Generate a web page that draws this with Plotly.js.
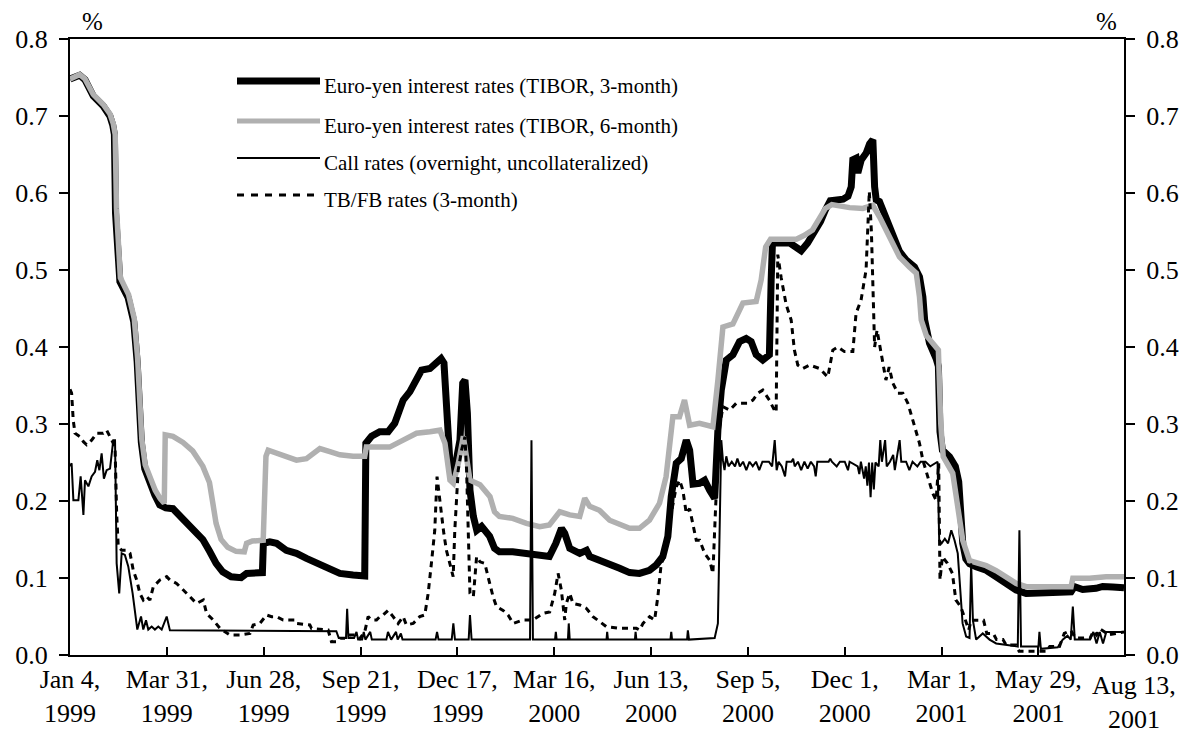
<!DOCTYPE html>
<html>
<head>
<meta charset="utf-8">
<script src="https://cdn.plot.ly/plotly-3.0.1.min.js"></script>
<style>html,body{margin:0;padding:0;background:#fff;}#chart{width:1187px;height:740px;}</style>
</head>
<body>
<div id="chart"></div>
<script>
// x = business-day index from Jan 4, 1999
const tickIdx = [0,60,120,180,240,300,360,420,480,540,600,653];
const tickLabels = ["Jan 4,<br>1999","Mar 31,<br>1999","Jun 28,<br>1999","Sep 21,<br>1999","Dec 17,<br>1999","Mar 16,<br>2000","Jun 13,<br>2000","Sep 5,<br>2000","Dec 1,<br>2000","Mar 1,<br>2001","May 29,<br>2001","Aug 13,<br>2001"];
const yTicks = [0,0.1,0.2,0.3,0.4,0.5,0.6,0.7,0.8];

const seriesNames = ["Euro-yen interest rates (TIBOR, 3-month)","Euro-yen interest rates (TIBOR, 6-month)","Call rates (overnight, uncollateralized)","TB/FB rates (3-month)"];

const tibor3mX = [0,6,9.3,14.4,20.6,24.7,26.5,27.5,28.2,30.9,36,39.5,41.6,42.8,44.2,46.3,49.4,52.5,55.6,59.3,63.8,70,76,82.3,86.4,90.5,94.6,99.8,106,109.4,119.2,119.8,123.8,128,134,140.3,146.5,152.7,158.9,167.2,175.4,182.6,183.3,186.8,191.9,197.1,201.2,206.4,210.6,214.7,217.8,223,227.1,229.9,231.7,233.4,235.4,237.5,239.6,241.6,243.3,244.7,246.2,247.8,249.9,252,255,257,260,263,266,274.3,282.8,291,297,301,304.5,306.5,309.6,315.8,320,322,328,334.3,340.5,346.7,352.8,359,363.2,367.3,370.4,372.5,375.6,378.7,381.8,383.9,386,390,393.2,396.3,399.4,401.4,403.5,406.6,410.7,414.8,418.9,422,425.1,429.2,433.3,434.4,435.2,446,449,453,457,461,465,468,471,479,482,484,485,487,488.1,490.2,493.3,495.4,497.4,498.5,499.5,501.5,504.6,507.7,510.8,513.9,518,523.2,526.3,528.4,529.5,532.5,536.6,538,539,540.5,544.9,548.5,550.6,552,553.1,555,557.3,561.4,567.6,573.8,580,586.2,592.4,600.6,611,620.2,622.3,627.4,635.7,639.8,646,653];
const tibor3mY = [0.748,0.753,0.747,0.726,0.713,0.700,0.688,0.676,0.574,0.485,0.464,0.433,0.381,0.328,0.276,0.242,0.224,0.208,0.195,0.191,0.190,0.176,0.163,0.150,0.135,0.119,0.108,0.1016,0.1005,0.106,0.107,0.145,0.147,0.145,0.136,0.132,0.1255,0.119,0.1126,0.106,0.104,0.1026,0.275,0.284,0.290,0.290,0.301,0.331,0.342,0.357,0.370,0.372,0.381,0.385,0.379,0.314,0.249,0.232,0.258,0.279,0.353,0.357,0.314,0.214,0.180,0.162,0.167,0.162,0.154,0.1385,0.134,0.134,0.132,0.130,0.128,0.145,0.1645,0.158,0.1385,0.132,0.136,0.128,0.1234,0.119,0.1126,0.107,0.106,0.110,0.117,0.128,0.154,0.206,0.249,0.255,0.279,0.266,0.222,0.223,0.227,0.214,0.2035,0.292,0.344,0.383,0.390,0.407,0.411,0.407,0.390,0.383,0.390,0.487,0.535,0.535,0.530,0.525,0.535,0.548,0.563,0.578,0.590,0.592,0.596,0.608,0.643,0.645,0.626,0.643,0.652,0.664,0.669,0.608,0.591,0.589,0.574,0.556,0.543,0.524,0.513,0.504,0.491,0.465,0.435,0.405,0.385,0.375,0.290,0.266,0.2576,0.245,0.225,0.180,0.145,0.125,0.1186,0.1147,0.110,0.1017,0.093,0.0844,0.080,0.080,0.080,0.082,0.0887,0.085,0.0866,0.089,0.0883,0.0874];

const tibor6mX = [0,6,9.3,14.4,20.6,24.7,26.8,28,28.8,31.2,36.3,39.8,41.9,43.1,44.5,46.6,49.7,52.8,55.9,58.4,59,63.8,70,76,82.3,86.4,88.5,90.5,93.6,97.7,102.9,108,109.4,113,119.7,121.4,122.8,130,140.3,146.5,154.8,161,167.2,175.4,182.6,183.6,198,206.4,214.7,223,229.2,232.3,235.4,237.5,240.6,243.7,245.8,247.8,254,258,260.2,263,266,274.3,282.8,291,297,303.4,309.6,315.8,318.9,322,328,334.3,340.5,346.7,352.8,359,365.2,369.3,373.5,377.6,380.7,383.9,390,398.3,401.4,404.5,410.7,416.9,425.1,428.2,431,434,450,455,460,464,468,472,483,491.2,497.4,501.5,505.7,509.8,513.9,520,524.3,526.3,527.4,530.5,534,538,539.5,541,546.9,551,553.1,557.3,561.4,567.6,573.8,580,586.2,592.4,620.2,621.3,631.6,641.9,653];
const tibor6mY = [0.748,0.754,0.748,0.728,0.715,0.703,0.690,0.676,0.580,0.490,0.468,0.437,0.385,0.332,0.280,0.247,0.229,0.214,0.203,0.197,0.286,0.284,0.276,0.265,0.245,0.224,0.197,0.171,0.150,0.140,0.1346,0.134,0.145,0.148,0.149,0.258,0.266,0.260,0.253,0.255,0.268,0.264,0.260,0.258,0.258,0.270,0.270,0.279,0.288,0.290,0.292,0.275,0.227,0.223,0.249,0.284,0.258,0.227,0.221,0.212,0.2056,0.186,0.180,0.1775,0.171,0.1667,0.169,0.186,0.182,0.180,0.2035,0.193,0.188,0.175,0.169,0.1645,0.1645,0.175,0.197,0.2316,0.3095,0.3095,0.331,0.2985,0.301,0.2965,0.357,0.426,0.430,0.457,0.459,0.487,0.530,0.540,0.540,0.545,0.552,0.565,0.580,0.585,0.581,0.580,0.584,0.569,0.552,0.535,0.517,0.504,0.496,0.465,0.435,0.415,0.405,0.396,0.300,0.2576,0.236,0.184,0.149,0.1225,0.1203,0.116,0.1095,0.101,0.093,0.0887,0.0887,0.0996,0.0996,0.1017,0.1017];

const callX = [0,1,2.1,5.2,6.6,8.3,9.3,11.4,13.4,15.5,16.9,18.2,19.6,21,22.7,24.8,26.8,27.9,28.9,30.5,32,34,36.1,38.8,41.7,44,45.4,47.1,48.5,50.6,52.6,54.7,56.8,59.9,61.9,165,166.5,171,171.7,172.5,176,177.5,178.5,181,182,183,186,187,196,197,199,202,203,205,206,226.5,227.4,228.3,236.5,237.5,238.5,247,247.8,248.8,285,285.9,286.8,300.5,301,301.5,308.5,309,309.6,332.4,332.8,333.3,350,350.4,350.9,372,372.5,373,382.3,382.8,383.5,399.4,401.4,403.5,404.5,405.5,406.6,408,410,412,413.5,415,417,419,421,423,425,427,429,433,435,436.6,437.8,439,441,443,444,447,448,449,451,453,455,457,459,461,462,463,470,471,472,475,477,480,482,483,488,489,490,492,493,494,495,496,497,498,499,501,502,503,505,506,508,510,511,514,515,518,520,522,525,527,530,533,537.5,538.5,540,542,544,546,548,550,553,555.2,557.3,558.3,559.4,561.4,565.5,569.7,573.8,580,587.2,588.2,589.2,600,600.6,601.5,612,615,618,620,621.3,622.5,630,632,634,636,638,640,642,645,653];
const callY = [0.245,0.249,0.201,0.201,0.232,0.182,0.227,0.219,0.232,0.238,0.253,0.240,0.262,0.229,0.240,0.242,0.279,0.279,0.119,0.080,0.132,0.130,0.115,0.080,0.033,0.050,0.033,0.045,0.033,0.037,0.033,0.037,0.033,0.050,0.032,0.031,0.022,0.022,0.060,0.022,0.022,0.030,0.020,0.020,0.030,0.020,0.030,0.020,0.020,0.030,0.020,0.030,0.020,0.028,0.020,0.020,0.030,0.020,0.020,0.041,0.020,0.020,0.052,0.020,0.020,0.279,0.020,0.020,0.030,0.020,0.020,0.041,0.020,0.020,0.030,0.020,0.020,0.030,0.020,0.020,0.030,0.020,0.020,0.032,0.020,0.022,0.041,0.279,0.253,0.240,0.258,0.245,0.251,0.245,0.255,0.245,0.251,0.240,0.251,0.245,0.251,0.240,0.251,0.251,0.245,0.279,0.240,0.251,0.245,0.232,0.251,0.251,0.255,0.245,0.251,0.240,0.251,0.242,0.251,0.245,0.232,0.251,0.251,0.255,0.251,0.245,0.251,0.251,0.240,0.251,0.245,0.235,0.251,0.229,0.245,0.220,0.250,0.205,0.250,0.215,0.250,0.245,0.279,0.251,0.279,0.245,0.251,0.260,0.240,0.279,0.251,0.251,0.240,0.251,0.245,0.251,0.251,0.245,0.251,0.149,0.145,0.151,0.145,0.162,0.149,0.132,0.041,0.024,0.022,0.119,0.045,0.020,0.028,0.020,0.015,0.013,0.011,0.162,0.011,0.011,0.030,0.008,0.010,0.020,0.025,0.020,0.063,0.020,0.020,0.020,0.030,0.015,0.030,0.015,0.030,0.030,0.030];

const tbfbX = [0,1,2,3.1,6.2,8.3,10.3,13.4,16.5,20.6,22.7,24.8,26.8,27.9,28.9,29.9,32,35.1,37.2,39.2,41.3,43.3,45.4,47.5,49.5,51.6,55.7,59.9,61.9,66,70.2,74.3,78.4,82.6,84.6,88.7,92.9,99.1,105.3,111.5,113.5,117.6,121.8,124.9,128,132.1,139.3,140.3,148.6,149.6,159.9,162,166.1,167.2,171.3,173.4,177.5,179.6,182.6,184.7,186.8,189.9,191.9,194,197.1,200.2,203.3,206.4,208.4,212.6,216.7,219.8,221.9,223.9,226,227.4,228.7,230.1,231.6,233.2,235.3,237.4,238.4,239.5,240.5,242.6,244.7,245.7,246.7,247.8,249.9,251.9,254,257,259,262.1,264.2,268.3,271.4,274.5,280.7,286.9,293.1,297.2,300.3,302.4,304.4,306.5,307.5,309.6,311.6,315.8,319.9,324,328.2,332.3,340.5,350.9,352.9,355,359.1,362.2,364.2,366.3,368.4,372.5,375.6,377.7,379.7,381.8,383.9,388,390.1,393.2,396.3,398.3,400,402.5,404.5,408.7,412.8,416.9,420,423.1,426.2,429.2,433.3,436.4,437.5,438.5,440.6,443.7,446.8,448.8,450.9,454,458.2,464.4,469.5,472.6,475.7,479.8,485,487,490.1,493.2,495.2,496.5,498.5,500,503.5,505.5,507.5,509.8,512.9,516,519.1,522.2,526.3,528.4,531.4,534.5,536.6,538.2,539,540.5,543.6,546.7,548.8,551.8,554,556.8,558.3,560,566,568,572,574,578,580,586,588,605,607,613,616,620,623,632,634,636,638,641,643,653];
const tbfbY = [0.345,0.340,0.305,0.288,0.2835,0.277,0.273,0.279,0.288,0.288,0.292,0.2835,0.277,0.2706,0.184,0.1407,0.136,0.136,0.132,0.110,0.0974,0.080,0.0714,0.0758,0.0714,0.0887,0.0974,0.1017,0.0974,0.093,0.0844,0.0758,0.067,0.0714,0.054,0.0455,0.0346,0.026,0.026,0.028,0.039,0.041,0.052,0.0498,0.0498,0.0455,0.0455,0.041,0.039,0.0346,0.0325,0.0173,0.0173,0.0216,0.0216,0.026,0.026,0.0216,0.030,0.0498,0.0455,0.0455,0.0498,0.052,0.058,0.0498,0.041,0.0498,0.039,0.041,0.0498,0.052,0.080,0.119,0.162,0.2316,0.2056,0.184,0.158,0.136,0.119,0.1017,0.162,0.201,0.240,0.266,0.2835,0.240,0.171,0.080,0.0758,0.1277,0.121,0.119,0.1017,0.0758,0.063,0.058,0.052,0.041,0.0455,0.0455,0.054,0.056,0.080,0.106,0.0844,0.0455,0.067,0.080,0.067,0.065,0.0606,0.0498,0.0433,0.0368,0.0346,0.0346,0.0325,0.041,0.0498,0.0455,0.0758,0.119,0.1277,0.184,0.2186,0.227,0.214,0.184,0.190,0.149,0.149,0.132,0.123,0.106,0.193,0.2965,0.3225,0.318,0.327,0.327,0.327,0.331,0.340,0.344,0.331,0.318,0.315,0.520,0.490,0.455,0.435,0.396,0.3766,0.372,0.3766,0.372,0.361,0.396,0.400,0.394,0.394,0.4437,0.461,0.500,0.602,0.550,0.400,0.422,0.379,0.357,0.374,0.353,0.340,0.340,0.327,0.305,0.275,0.253,0.2316,0.210,0.201,0.249,0.0974,0.1277,0.119,0.106,0.0714,0.063,0.050,0.0325,0.045,0.045,0.045,0.028,0.028,0.020,0.020,0.013,0.013,0.005,0.005,0.011,0.011,0.028,0.032,0.022,0.022,0.031,0.026,0.034,0.030,0.026,0.030];

const FONT = "Liberation Serif, Times New Roman, serif";

const traces = [
  {x: tibor3mX, y: tibor3mY, name: seriesNames[0], type: "scatter", mode: "lines",
   line: {color: "#000000", width: 7}},
  {x: tibor6mX, y: tibor6mY, name: seriesNames[1], type: "scatter", mode: "lines",
   line: {color: "#b0b0b0", width: 5.5}},
  {x: callX, y: callY, name: seriesNames[2], type: "scatter", mode: "lines",
   line: {color: "#000000", width: 2}},
  {x: tbfbX, y: tbfbY, name: seriesNames[3], type: "scatter", mode: "lines",
   line: {color: "#000000", width: 3, dash: "6px,5px"}},
  {x: [0, 653], y: [0, 0], yaxis: "y2", type: "scatter", mode: "lines",
   line: {width: 0}, hoverinfo: "skip", showlegend: false}
];

// legend drawn in paper coordinates
const L = 70, R = 1124, T = 39, B = 655;
const px = v => (v - L) / (R - L);
const py = v => (B - v) / (B - T);
const legRows = [81, 121, 158, 195];
const legStyles = [
  {color: "#000000", width: 7},
  {color: "#b0b0b0", width: 5},
  {color: "#000000", width: 2},
  {color: "#000000", width: 3, dash: "7px,7px"}
];
const shapes = legRows.map((yy, i) => ({
  type: "line", xref: "paper", yref: "paper",
  x0: px(237), x1: px(320), y0: py(yy), y1: py(yy),
  line: legStyles[i]
}));
const annotations = legRows.map((yy, i) => ({
  xref: "paper", yref: "paper", x: px(322), y: py(yy + 5),
  xanchor: "left", yanchor: "middle", showarrow: false,
  text: seriesNames[i], font: {family: FONT, size: 21, color: "#000"}
}));
annotations.push({xref: "paper", yref: "paper", x: px(92), y: py(22), xanchor: "center", yanchor: "middle",
  showarrow: false, text: "%", font: {family: FONT, size: 25, color: "#000"}});
annotations.push({xref: "paper", yref: "paper", x: px(1106), y: py(22), xanchor: "center", yanchor: "middle",
  showarrow: false, text: "%", font: {family: FONT, size: 25, color: "#000"}});

// last tick label (Aug 13, 2001) is set slightly right of its tick, clear of the right-axis "0.0"
const lastI = tickIdx.length - 1;
annotations.push({xref: "x", yref: "paper", x: tickIdx[lastI], y: 0, xanchor: "center", yanchor: "top",
  xshift: 10, yshift: -14, showarrow: false, text: tickLabels[lastI],
  font: {family: FONT, size: 26, color: "#000"}});
const shownTickText = tickLabels.map((t, i) => i === lastI ? "" : t);

const axisFont = {family: FONT, size: 26, color: "#000"};
const layout = {
  width: 1187, height: 740,
  margin: {l: L, r: 1187 - R, t: T, b: 740 - B},
  paper_bgcolor: "#fff", plot_bgcolor: "#fff",
  showlegend: false,
  font: {family: FONT, color: "#000"},
  xaxis: {range: [0, 653], tickmode: "array", tickvals: tickIdx, ticktext: shownTickText,
    ticks: "inside", ticklen: 8, tickwidth: 2, tickcolor: "#000",
    showline: true, linecolor: "#000", linewidth: 2, mirror: true,
    showgrid: false, zeroline: false, tickfont: axisFont, tickangle: 0},
  yaxis: {range: [0, 0.8], tickmode: "array", tickvals: yTicks, tickformat: ".1f",
    ticks: "outside", ticklen: 9, tickwidth: 2, tickcolor: "#000",
    showline: true, linecolor: "#000", linewidth: 2,
    showgrid: false, zeroline: false, tickfont: axisFont, ticklabelstandoff: 6},
  yaxis2: {range: [0, 0.8], overlaying: "y", side: "right", tickmode: "array", tickvals: yTicks, tickformat: ".1f",
    ticks: "outside", ticklen: 9, tickwidth: 2, tickcolor: "#000",
    showline: true, linecolor: "#000", linewidth: 2,
    showgrid: false, zeroline: false, tickfont: axisFont, ticklabelstandoff: 6},
  shapes: shapes,
  annotations: annotations
};

Plotly.newPlot("chart", traces, layout, {displayModeBar: false, staticPlot: true});
</script>
</body>
</html>
